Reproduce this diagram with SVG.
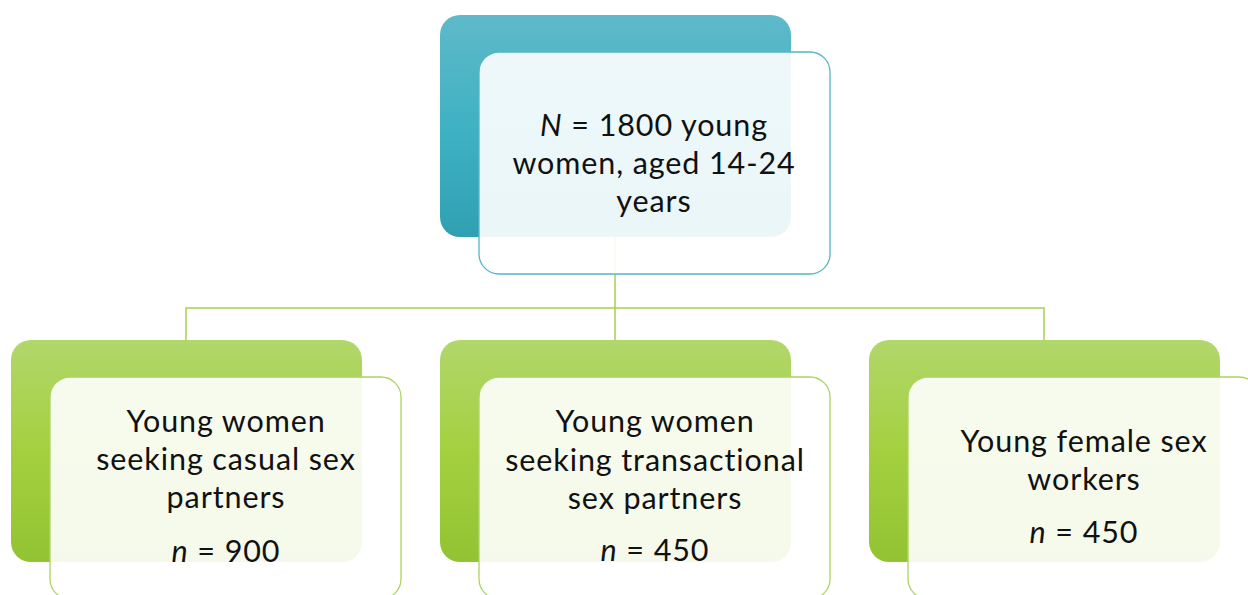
<svg xmlns="http://www.w3.org/2000/svg" width="1248" height="595" viewBox="0 0 1248 595">
<defs>
<linearGradient id="gTeal" x1="0" y1="0" x2="0" y2="1">
<stop offset="0" stop-color="#5fb9c9"/>
<stop offset="0.5" stop-color="#3fb2c3"/>
<stop offset="1" stop-color="#2fa0b1"/>
</linearGradient>
<linearGradient id="gGreen" x1="0" y1="0" x2="0" y2="1">
<stop offset="0" stop-color="#b1d76b"/>
<stop offset="0.5" stop-color="#a4d040"/>
<stop offset="1" stop-color="#92c332"/>
</linearGradient>
</defs>
<style>
.back-t{fill:url(#gTeal)}
.back-g{fill:url(#gGreen)}
.front-t{fill:#ffffff;fill-opacity:0.9;stroke:#55b5c6;stroke-width:1.3}
.front-g{fill:#ffffff;fill-opacity:0.9;stroke:#abd462;stroke-width:1.3}
.conn{fill:none;stroke:#a6d150;stroke-width:1.5}
text{font-family:Lato,"Open Sans","Liberation Sans",sans-serif;font-size:30.5px;letter-spacing:0.9px;fill:#111;text-anchor:middle}
.i{font-style:italic}
</style>
<rect width="1248" height="595" fill="#ffffff"/>
<g id="connectors">
<path class="conn" d="M615,237 V308 M186,340 V308 H1044 V340 M615,308 V340"/>
</g>
<g id="root">
<rect class="back-t" x="440" y="15" width="351" height="222" rx="20"/>
<rect class="front-t" x="479" y="52" width="351" height="222" rx="20"/>
<text x="654" y="136"><tspan class="i">N</tspan> = 1800 young</text>
<text x="654" y="174">women, aged 14-24</text>
<text x="654" y="212">years</text>
</g>
<g id="casual">
<rect class="back-g" x="11" y="340" width="351" height="222" rx="20"/>
<rect class="front-g" x="50" y="377" width="351" height="222" rx="20"/>
<text x="226" y="432">Young women</text>
<text x="226" y="470">seeking casual sex</text>
<text x="226" y="508">partners</text>
<text x="226" y="562"><tspan class="i">n</tspan> = 900</text>
</g>
<g id="transactional">
<rect class="back-g" x="440" y="340" width="351" height="222" rx="20"/>
<rect class="front-g" x="479" y="377" width="351" height="222" rx="20"/>
<text x="655" y="432">Young women</text>
<text x="655" y="471">seeking transactional</text>
<text x="655" y="509">sex partners</text>
<text x="655" y="561"><tspan class="i">n</tspan> = 450</text>
</g>
<g id="sexworkers">
<rect class="back-g" x="869" y="340" width="351" height="222" rx="20"/>
<rect class="front-g" x="908" y="377" width="351" height="222" rx="20"/>
<text x="1084" y="452">Young female sex</text>
<text x="1084" y="490">workers</text>
<text x="1084" y="543"><tspan class="i">n</tspan> = 450</text>
</g>
</svg>
